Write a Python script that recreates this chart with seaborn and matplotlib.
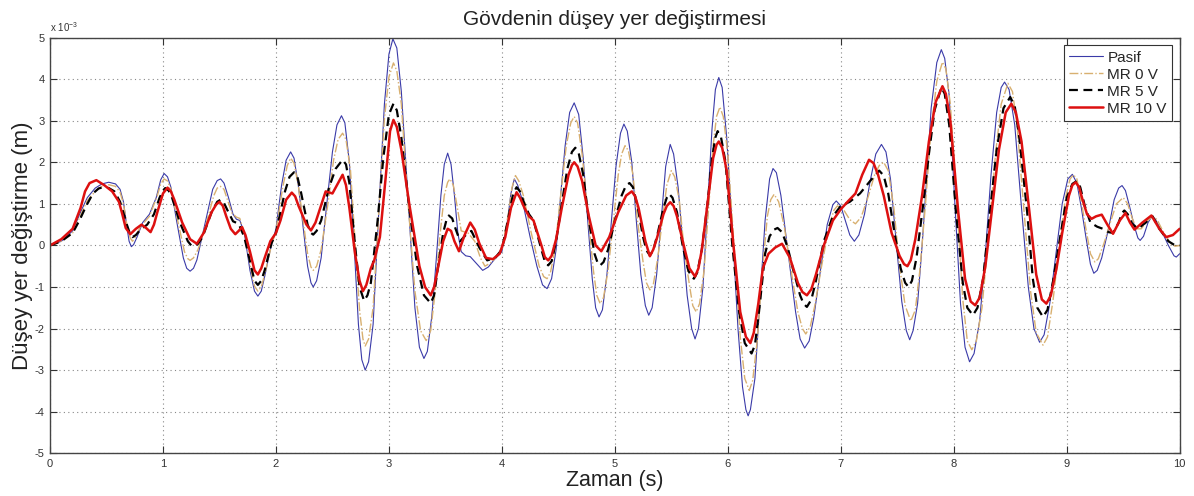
import numpy as np
import pandas as pd
import matplotlib
matplotlib.use("Agg")
import matplotlib.pyplot as plt
import seaborn as sns
from matplotlib.ticker import FuncFormatter, MultipleLocator

# ---- data: (time s, displacement x1e-3 m) ----
pasif = [
    (0.00, 0.00), (0.10, 0.10), (0.20, 0.35), (0.27, 0.80), (0.33, 1.15), (0.40, 1.38), (0.46, 1.48),
    (0.52, 1.52), (0.58, 1.48), (0.62, 1.35), (0.65, 1.05), (0.68, 0.45), (0.70, 0.10), (0.72, -0.03),
    (0.74, 0.02), (0.77, 0.20), (0.82, 0.55), (0.88, 0.75), (0.94, 1.15), (0.98, 1.58), (1.01, 1.73),
    (1.04, 1.65), (1.07, 1.40), (1.12, 0.60), (1.18, -0.30), (1.21, -0.55), (1.24, -0.62), (1.27, -0.55),
    (1.30, -0.35), (1.37, 0.50), (1.44, 1.35), (1.48, 1.56), (1.51, 1.60), (1.54, 1.50), (1.58, 1.15),
    (1.62, 0.75), (1.65, 0.63), (1.68, 0.60), (1.72, 0.30), (1.77, -0.60), (1.81, -1.10), (1.84, -1.22),
    (1.87, -1.10), (1.90, -0.75), (1.95, -0.10), (2.00, 0.40), (2.05, 1.45), (2.09, 2.05), (2.13, 2.25),
    (2.16, 2.10), (2.20, 1.40), (2.24, 0.45), (2.28, -0.50), (2.31, -0.90), (2.33, -1.00), (2.36, -0.85),
    (2.40, -0.30), (2.45, 1.00), (2.50, 2.25), (2.54, 2.90), (2.58, 3.12), (2.61, 2.95), (2.65, 2.00),
    (2.69, 0.10), (2.73, -1.90), (2.76, -2.75), (2.79, -3.00), (2.82, -2.80), (2.86, -1.90), (2.91, 0.80),
    (2.96, 3.40), (3.00, 4.60), (3.035, 4.97), (3.07, 4.75), (3.11, 3.70), (3.17, 1.10), (3.23, -1.50),
    (3.27, -2.45), (3.31, -2.72), (3.34, -2.55), (3.38, -1.70), (3.42, -0.30), (3.46, 1.20), (3.49, 1.95),
    (3.52, 2.22), (3.55, 1.95), (3.58, 1.20), (3.61, 0.30), (3.64, -0.15), (3.68, -0.25), (3.72, -0.27),
    (3.78, -0.45), (3.83, -0.60), (3.88, -0.52), (3.93, -0.35), (4.00, -0.15), (4.05, 0.60), (4.08, 1.25),
    (4.11, 1.60), (4.14, 1.45), (4.18, 1.10), (4.25, 0.20), (4.31, -0.50), (4.36, -0.95), (4.40, -1.04),
    (4.44, -0.80), (4.48, -0.10), (4.52, 1.20), (4.56, 2.40), (4.60, 3.20), (4.64, 3.43), (4.68, 3.15),
    (4.72, 2.10), (4.76, 0.60), (4.80, -0.80), (4.83, -1.50), (4.86, -1.72), (4.89, -1.55), (4.93, -0.70),
    (4.97, 0.60), (5.01, 1.90), (5.05, 2.70), (5.08, 2.92), (5.11, 2.75), (5.15, 2.00), (5.19, 0.60),
    (5.23, -0.70), (5.27, -1.45), (5.30, -1.68), (5.33, -1.50), (5.37, -0.70), (5.41, 0.60), (5.45, 1.90),
    (5.49, 2.43), (5.52, 2.20), (5.56, 1.40), (5.60, 0.10), (5.64, -1.20), (5.68, -2.00), (5.71, -2.25),
    (5.74, -2.00), (5.78, -1.00), (5.82, 0.90), (5.86, 2.80), (5.89, 3.75), (5.92, 4.04), (5.95, 3.80),
    (5.99, 2.60), (6.04, 0.40), (6.09, -2.00), (6.13, -3.40), (6.16, -3.95), (6.18, -4.10), (6.20, -3.95),
    (6.24, -3.20), (6.29, -1.10), (6.33, 0.60), (6.37, 1.60), (6.40, 1.85), (6.43, 1.75), (6.47, 1.20),
    (6.54, -0.30), (6.60, -1.60), (6.64, -2.25), (6.68, -2.47), (6.72, -2.30), (6.76, -1.75), (6.82, -0.60),
    (6.88, 0.50), (6.93, 0.98), (6.96, 1.07), (7.00, 0.95), (7.04, 0.60), (7.08, 0.25), (7.12, 0.10),
    (7.16, 0.25), (7.21, 0.75), (7.26, 1.55), (7.31, 2.20), (7.36, 2.43), (7.40, 2.25), (7.44, 1.60),
    (7.49, 0.10), (7.54, -1.35), (7.58, -2.05), (7.61, -2.27), (7.64, -2.05), (7.68, -1.40), (7.72, 0.00),
    (7.76, 1.60), (7.80, 3.30), (7.85, 4.40), (7.89, 4.71), (7.92, 4.50), (7.96, 3.60), (8.01, 1.00),
    (8.06, -1.40), (8.10, -2.45), (8.14, -2.80), (8.18, -2.60), (8.23, -1.80), (8.28, -0.20), (8.33, 1.70),
    (8.38, 3.20), (8.42, 3.80), (8.45, 3.93), (8.49, 3.75), (8.54, 2.90), (8.60, 0.90), (8.66, -1.00),
    (8.71, -2.00), (8.76, -2.33), (8.80, -2.15), (8.85, -1.40), (8.90, -0.30), (8.96, 1.00), (9.01, 1.60),
    (9.05, 1.71), (9.09, 1.50), (9.13, 0.90), (9.17, 0.20), (9.21, -0.45), (9.24, -0.67), (9.27, -0.60),
    (9.31, -0.30), (9.37, 0.40), (9.42, 1.10), (9.46, 1.38), (9.49, 1.44), (9.52, 1.32), (9.56, 0.90),
    (9.60, 0.45), (9.63, 0.18), (9.65, 0.12), (9.68, 0.22), (9.72, 0.55), (9.75, 0.68), (9.78, 0.65),
    (9.84, 0.35), (9.90, 0.00), (9.95, -0.25), (9.97, -0.28), (10.0, -0.20),
]

mr0 = [
    (0.00, 0.00), (0.10, 0.10), (0.20, 0.30), (0.27, 0.72), (0.33, 1.08), (0.40, 1.30), (0.46, 1.42),
    (0.52, 1.46), (0.58, 1.42), (0.62, 1.28), (0.65, 1.00), (0.68, 0.50), (0.71, 0.18), (0.73, 0.10),
    (0.76, 0.22), (0.80, 0.45), (0.88, 0.70), (0.95, 1.20), (0.98, 1.48), (1.01, 1.60), (1.04, 1.55),
    (1.07, 1.35), (1.13, 0.60), (1.19, -0.15), (1.22, -0.32), (1.24, -0.36), (1.27, -0.30), (1.31, -0.10),
    (1.38, 0.50), (1.45, 1.20), (1.48, 1.38), (1.51, 1.42), (1.54, 1.35), (1.57, 1.10), (1.61, 0.78),
    (1.65, 0.68), (1.68, 0.65), (1.73, 0.20), (1.78, -0.60), (1.81, -0.98), (1.84, -1.10), (1.87, -1.00),
    (1.90, -0.70), (1.96, 0.00), (2.00, 0.35), (2.06, 1.40), (2.10, 1.92), (2.13, 2.10), (2.16, 1.98),
    (2.20, 1.40), (2.24, 0.60), (2.28, -0.20), (2.31, -0.52), (2.33, -0.60), (2.36, -0.50), (2.40, -0.10),
    (2.46, 1.00), (2.51, 2.05), (2.55, 2.55), (2.59, 2.70), (2.62, 2.55), (2.66, 1.80), (2.70, 0.10),
    (2.74, -1.55), (2.77, -2.25), (2.79, -2.42), (2.82, -2.25), (2.86, -1.50), (2.91, 0.80), (2.96, 3.05),
    (3.00, 4.05), (3.04, 4.39), (3.07, 4.20), (3.11, 3.40), (3.17, 1.00), (3.23, -1.10), (3.28, -2.05),
    (3.33, -2.29), (3.37, -2.05), (3.41, -1.10), (3.45, 0.20), (3.49, 1.20), (3.52, 1.52), (3.54, 1.60),
    (3.57, 1.45), (3.60, 1.00), (3.64, 0.35), (3.70, 0.30), (3.76, 0.10), (3.81, -0.30), (3.85, -0.50),
    (3.90, -0.42), (3.95, -0.28), (4.00, -0.10), (4.06, 0.80), (4.09, 1.40), (4.12, 1.68), (4.15, 1.55),
    (4.19, 1.20), (4.26, 0.30), (4.33, -0.50), (4.37, -0.75), (4.40, -0.80), (4.43, -0.65), (4.47, -0.10),
    (4.52, 1.20), (4.57, 2.40), (4.61, 2.95), (4.64, 3.10), (4.67, 2.95), (4.71, 2.20), (4.76, 0.80),
    (4.81, -0.60), (4.84, -1.20), (4.87, -1.40), (4.90, -1.25), (4.94, -0.60), (4.98, 0.40), (5.03, 1.70),
    (5.06, 2.20), (5.09, 2.40), (5.12, 2.28), (5.16, 1.70), (5.20, 0.60), (5.25, -0.40), (5.28, -0.90),
    (5.31, -1.07), (5.34, -0.95), (5.38, -0.30), (5.42, 0.60), (5.46, 1.45), (5.50, 1.80), (5.53, 1.65),
    (5.57, 1.10), (5.61, 0.00), (5.66, -0.95), (5.69, -1.45), (5.72, -1.60), (5.75, -1.40), (5.79, -0.60),
    (5.83, 0.90), (5.87, 2.40), (5.90, 3.10), (5.93, 3.33), (5.96, 3.10), (6.00, 2.20), (6.06, -0.20),
    (6.11, -2.20), (6.15, -3.20), (6.19, -3.49), (6.22, -3.25), (6.26, -2.30), (6.31, -0.50), (6.35, 0.70),
    (6.38, 1.10), (6.41, 1.23), (6.45, 1.05), (6.50, 0.45), (6.56, -0.60), (6.62, -1.60), (6.66, -2.00),
    (6.69, -2.13), (6.73, -1.95), (6.77, -1.45), (6.83, -0.50), (6.90, 0.50), (6.94, 0.85), (6.97, 0.95),
    (7.02, 0.88), (7.08, 0.62), (7.13, 0.52), (7.18, 0.68), (7.24, 1.15), (7.30, 1.70), (7.34, 1.92),
    (7.38, 2.00), (7.42, 1.80), (7.47, 0.90), (7.52, -0.50), (7.57, -1.45), (7.62, -1.82), (7.66, -1.55),
    (7.70, -0.60), (7.75, 1.00), (7.80, 2.80), (7.85, 3.95), (7.90, 4.41), (7.93, 4.25), (7.97, 3.40),
    (8.03, 0.90), (8.08, -1.30), (8.12, -2.30), (8.16, -2.51), (8.20, -2.30), (8.25, -1.50), (8.31, 0.30),
    (8.37, 2.20), (8.42, 3.40), (8.48, 3.90), (8.52, 3.70), (8.56, 2.90), (8.62, 0.90), (8.68, -1.10),
    (8.73, -2.10), (8.79, -2.40), (8.83, -2.20), (8.88, -1.30), (8.93, -0.10), (8.99, 1.15), (9.03, 1.60),
    (9.06, 1.70), (9.09, 1.60), (9.13, 1.05), (9.17, 0.40), (9.21, -0.20), (9.25, -0.40), (9.28, -0.32),
    (9.33, 0.05), (9.38, 0.50), (9.44, 1.00), (9.50, 1.15), (9.54, 1.00), (9.58, 0.65), (9.62, 0.40),
    (9.66, 0.40), (9.71, 0.58), (9.76, 0.70), (9.80, 0.62), (9.86, 0.30), (9.92, 0.05), (9.96, -0.02),
    (10.0, 0.00),
]

mr5 = [
    (0.00, 0.00), (0.10, 0.10), (0.20, 0.30), (0.26, 0.60), (0.32, 0.95), (0.38, 1.25), (0.43, 1.37),
    (0.47, 1.40), (0.52, 1.38), (0.57, 1.30), (0.62, 1.05), (0.65, 0.78), (0.68, 0.50), (0.71, 0.26),
    (0.73, 0.20), (0.76, 0.25), (0.80, 0.38), (0.86, 0.50), (0.92, 0.75), (0.97, 1.15), (1.00, 1.32),
    (1.02, 1.38), (1.05, 1.32), (1.08, 1.15), (1.15, 0.55), (1.22, 0.10), (1.25, 0.00), (1.28, -0.02),
    (1.31, 0.04), (1.35, 0.20), (1.43, 0.80), (1.48, 1.05), (1.51, 1.10), (1.54, 1.02), (1.57, 0.85),
    (1.62, 0.58), (1.67, 0.52), (1.72, 0.20), (1.78, -0.50), (1.81, -0.85), (1.84, -0.95), (1.87, -0.85),
    (1.90, -0.60), (1.96, 0.05), (2.00, 0.30), (2.04, 0.80), (2.08, 1.30), (2.12, 1.65), (2.16, 1.76),
    (2.19, 1.65), (2.22, 1.30), (2.28, 0.50), (2.31, 0.30), (2.33, 0.26), (2.36, 0.35), (2.40, 0.60),
    (2.47, 1.40), (2.53, 1.85), (2.59, 2.06), (2.62, 1.95), (2.65, 1.50), (2.70, 0.00), (2.74, -1.00),
    (2.78, -1.33), (2.81, -1.20), (2.84, -0.90), (2.90, 0.60), (2.95, 2.10), (3.00, 3.15), (3.04, 3.41),
    (3.07, 3.25), (3.11, 2.60), (3.18, 0.90), (3.25, -0.50), (3.31, -1.20), (3.37, -1.39), (3.40, -1.20),
    (3.43, -0.60), (3.48, 0.30), (3.51, 0.62), (3.53, 0.72), (3.56, 0.65), (3.59, 0.40), (3.63, 0.10),
    (3.68, 0.25), (3.73, 0.35), (3.80, -0.05), (3.87, -0.36), (3.94, -0.30), (4.00, -0.10), (4.06, 0.70),
    (4.10, 1.25), (4.13, 1.40), (4.16, 1.30), (4.20, 1.00), (4.24, 0.75), (4.28, 0.60), (4.35, -0.10),
    (4.38, -0.38), (4.41, -0.48), (4.44, -0.38), (4.48, 0.10), (4.53, 1.00), (4.58, 1.85), (4.62, 2.25),
    (4.65, 2.35), (4.68, 2.22), (4.72, 1.70), (4.77, 0.60), (4.82, -0.20), (4.85, -0.44), (4.87, -0.48),
    (4.90, -0.40), (4.94, -0.10), (5.00, 0.60), (5.06, 1.20), (5.10, 1.45), (5.13, 1.50), (5.16, 1.40),
    (5.20, 0.95), (5.25, 0.20), (5.28, -0.12), (5.31, -0.24), (5.34, -0.12), (5.38, 0.30), (5.43, 0.90),
    (5.46, 1.15), (5.48, 1.24), (5.51, 1.15), (5.55, 0.80), (5.60, 0.00), (5.65, -0.60), (5.68, -0.76),
    (5.70, -0.80), (5.73, -0.65), (5.77, -0.10), (5.82, 1.00), (5.86, 2.10), (5.89, 2.60), (5.91, 2.75),
    (5.94, 2.60), (5.98, 2.00), (6.04, 0.00), (6.10, -1.60), (6.15, -2.35), (6.21, -2.60), (6.24, -2.40),
    (6.28, -1.50), (6.33, -0.20), (6.37, 0.22), (6.41, 0.38), (6.44, 0.42), (6.48, 0.32), (6.53, -0.05),
    (6.58, -0.60), (6.64, -1.20), (6.67, -1.40), (6.70, -1.48), (6.74, -1.30), (6.78, -0.85), (6.85, 0.10),
    (6.93, 0.70), (7.00, 0.95), (7.08, 1.05), (7.17, 1.25), (7.26, 1.55), (7.34, 1.80), (7.38, 1.68),
    (7.42, 1.25), (7.47, 0.40), (7.53, -0.55), (7.57, -0.90), (7.60, -1.00), (7.63, -0.85), (7.67, -0.30),
    (7.73, 1.00), (7.78, 2.20), (7.83, 3.25), (7.89, 3.80), (7.92, 3.65), (7.96, 2.90), (8.02, 0.80),
    (8.08, -0.90), (8.12, -1.50), (8.17, -1.68), (8.21, -1.50), (8.26, -0.80), (8.32, 0.80), (8.38, 2.30),
    (8.44, 3.30), (8.50, 3.57), (8.54, 3.35), (8.58, 2.60), (8.65, 0.80), (8.70, -0.80), (8.74, -1.50),
    (8.79, -1.72), (8.83, -1.55), (8.88, -0.85), (8.93, 0.00), (9.00, 1.15), (9.05, 1.48), (9.09, 1.55),
    (9.12, 1.40), (9.16, 0.95), (9.21, 0.55), (9.27, 0.45), (9.32, 0.40), (9.37, 0.32), (9.41, 0.30),
    (9.46, 0.55), (9.49, 0.78), (9.51, 0.84), (9.54, 0.75), (9.58, 0.52), (9.63, 0.40), (9.70, 0.55),
    (9.76, 0.70), (9.82, 0.40), (9.90, 0.10), (9.96, 0.00), (10.0, 0.00),
]

mr10 = [
    (0.00, 0.00), (0.10, 0.15), (0.20, 0.40), (0.27, 0.90), (0.31, 1.30), (0.35, 1.50), (0.41, 1.57),
    (0.48, 1.45), (0.55, 1.30), (0.61, 1.05), (0.64, 0.75), (0.67, 0.42), (0.71, 0.27), (0.76, 0.40),
    (0.81, 0.50), (0.85, 0.42), (0.89, 0.32), (0.92, 0.50), (0.95, 0.80), (1.00, 1.25), (1.04, 1.39),
    (1.07, 1.30), (1.10, 1.10), (1.17, 0.55), (1.24, 0.15), (1.30, 0.04), (1.36, 0.30), (1.43, 0.80),
    (1.47, 0.98), (1.50, 1.05), (1.53, 0.95), (1.56, 0.70), (1.60, 0.40), (1.64, 0.27), (1.67, 0.35),
    (1.70, 0.44), (1.73, 0.25), (1.77, -0.15), (1.81, -0.60), (1.84, -0.70), (1.87, -0.55), (1.90, -0.30),
    (1.95, 0.10), (2.00, 0.30), (2.04, 0.60), (2.09, 1.10), (2.14, 1.27), (2.17, 1.18), (2.20, 0.95),
    (2.27, 0.50), (2.31, 0.36), (2.35, 0.55), (2.38, 0.80), (2.44, 1.30), (2.50, 1.25), (2.55, 1.50),
    (2.59, 1.70), (2.62, 1.45), (2.65, 0.90), (2.70, -0.20), (2.74, -0.85), (2.77, -1.10), (2.80, -0.95),
    (2.84, -0.55), (2.87, -0.36), (2.92, 0.20), (2.97, 1.60), (3.01, 2.75), (3.04, 3.02), (3.07, 2.85),
    (3.11, 2.30), (3.18, 1.00), (3.27, -0.50), (3.32, -1.00), (3.37, -1.20), (3.40, -1.00), (3.43, -0.60),
    (3.48, 0.10), (3.52, 0.40), (3.55, 0.35), (3.58, 0.10), (3.62, -0.14), (3.67, 0.25), (3.72, 0.55),
    (3.76, 0.38), (3.80, 0.05), (3.86, -0.30), (3.92, -0.33), (3.98, -0.20), (4.03, 0.20), (4.08, 0.90),
    (4.13, 1.28), (4.16, 1.15), (4.20, 0.90), (4.24, 0.70), (4.28, 0.60), (4.35, 0.00), (4.38, -0.28),
    (4.41, -0.36), (4.44, -0.25), (4.48, 0.15), (4.53, 0.90), (4.59, 1.70), (4.62, 1.93), (4.64, 2.00),
    (4.67, 1.90), (4.71, 1.55), (4.77, 0.70), (4.83, 0.00), (4.88, -0.14), (4.95, 0.20), (5.03, 0.80),
    (5.10, 1.20), (5.15, 1.30), (5.18, 1.18), (5.21, 0.90), (5.27, 0.10), (5.31, -0.26), (5.34, -0.10),
    (5.37, 0.15), (5.43, 0.75), (5.46, 0.95), (5.49, 1.04), (5.52, 0.95), (5.55, 0.70), (5.61, 0.00),
    (5.66, -0.55), (5.71, -0.75), (5.74, -0.55), (5.77, -0.10), (5.82, 1.00), (5.87, 2.10), (5.90, 2.42),
    (5.92, 2.50), (5.95, 2.35), (5.99, 1.80), (6.05, 0.00), (6.11, -1.60), (6.16, -2.20), (6.20, -2.35),
    (6.23, -2.10), (6.27, -1.40), (6.31, -0.55), (6.36, -0.20), (6.42, -0.05), (6.48, 0.04), (6.55, -0.30),
    (6.62, -0.90), (6.66, -1.12), (6.70, -1.20), (6.74, -1.05), (6.78, -0.70), (6.85, 0.00), (6.93, 0.60),
    (7.00, 0.87), (7.06, 1.05), (7.13, 1.25), (7.19, 1.70), (7.25, 2.06), (7.29, 1.98), (7.33, 1.70),
    (7.38, 1.20), (7.45, 0.30), (7.52, -0.25), (7.56, -0.45), (7.59, -0.50), (7.62, -0.35), (7.66, 0.15),
    (7.72, 1.20), (7.78, 2.50), (7.84, 3.45), (7.90, 3.83), (7.93, 3.65), (7.97, 3.00), (8.04, 0.80),
    (8.10, -0.80), (8.15, -1.35), (8.19, -1.44), (8.23, -1.25), (8.28, -0.50), (8.34, 0.90), (8.40, 2.30),
    (8.46, 3.20), (8.51, 3.41), (8.55, 3.20), (8.60, 2.50), (8.67, 0.80), (8.73, -0.70), (8.78, -1.30),
    (8.82, -1.40), (8.86, -1.20), (8.91, -0.55), (8.96, 0.30), (9.02, 1.20), (9.05, 1.45), (9.08, 1.52),
    (9.11, 1.40), (9.14, 1.10), (9.18, 0.75), (9.22, 0.64), (9.26, 0.70), (9.31, 0.74), (9.36, 0.50),
    (9.41, 0.28), (9.47, 0.60), (9.52, 0.78), (9.56, 0.55), (9.60, 0.38), (9.67, 0.55), (9.75, 0.72),
    (9.82, 0.40), (9.88, 0.20), (9.94, 0.25), (10.0, 0.40),
]

labels = ["Pasif", "MR 0 V", "MR 5 V", "MR 10 V"]
title = "Gövdenin düşey yer değiştirmesi"
xlabel = "Zaman (s)"
ylabel = "Düşey yer değiştirme (m)"
scale_label = "x 10$^{-3}$"

# ---- plotting ----
sns.set_style("white")
plt.rcParams['font.family'] = ['Liberation Sans', 'DejaVu Sans']
plt.rcParams['axes.unicode_minus'] = False
plt.rcParams['mathtext.fontset'] = 'custom'
plt.rcParams['mathtext.rm'] = 'Liberation Sans'
plt.rcParams['mathtext.default'] = 'regular'

fig = plt.figure(figsize=(11.94, 4.96), dpi=100)
ax = fig.add_axes([0.0419, 0.0862, 0.9461, 0.838])

styles = [
    dict(color="#3a3aa8", lw=0.8, ls="-"),
    dict(color="#d8b070", lw=1.0, ls="-."),
    dict(color="black", lw=1.6, ls=(0, (4, 2.5))),
    dict(color="#dd1010", lw=1.8, ls="-"),
]
for data, lab, st in zip([pasif, mr0, mr5, mr10], labels, styles):
    df = pd.DataFrame(data, columns=["t", "v"])
    df["v"] = df["v"] * 1e-3
    sns.lineplot(data=df, x="t", y="v", ax=ax, label=lab,
                 color=st["color"], linewidth=st["lw"], linestyle=st["ls"],
                 sort=False, estimator=None)

ax.set_xlim(0, 10)
ax.set_ylim(-5e-3, 5e-3)
ax.xaxis.set_major_locator(MultipleLocator(1))
ax.yaxis.set_major_locator(MultipleLocator(1e-3))
ax.yaxis.set_major_formatter(FuncFormatter(lambda v, p: "%d" % round(v * 1e3)))
ax.text(0.0, 1.008, scale_label, transform=ax.transAxes, fontsize=7,
        color="#333333", ha="left", va="bottom")

ax.grid(True, color="#888888", linestyle=(0, (1, 3)), linewidth=0.8)
ax.tick_params(direction="in", length=5, width=0.8, labelsize=8, colors="#333333",
               top=True, right=True, bottom=True, left=True, pad=4)
for s in ax.spines.values():
    s.set_color("#444444")
    s.set_linewidth(1.0)

ax.set_title(title, fontsize=15, pad=9, color="#222222")
ax.set_xlabel(xlabel, fontsize=15.5, labelpad=1, color="#222222")
ax.set_ylabel(ylabel, fontsize=16, labelpad=1, color="#222222")

leg = ax.legend(loc="upper right", fontsize=11, frameon=True, fancybox=False,
                edgecolor="#333333", framealpha=1, handlelength=2.2,
                borderaxespad=0.5, labelspacing=0.2, handletextpad=0.3,
                borderpad=0.35)
leg.get_frame().set_linewidth(0.8)

fig.savefig("out.png", dpi=100)
